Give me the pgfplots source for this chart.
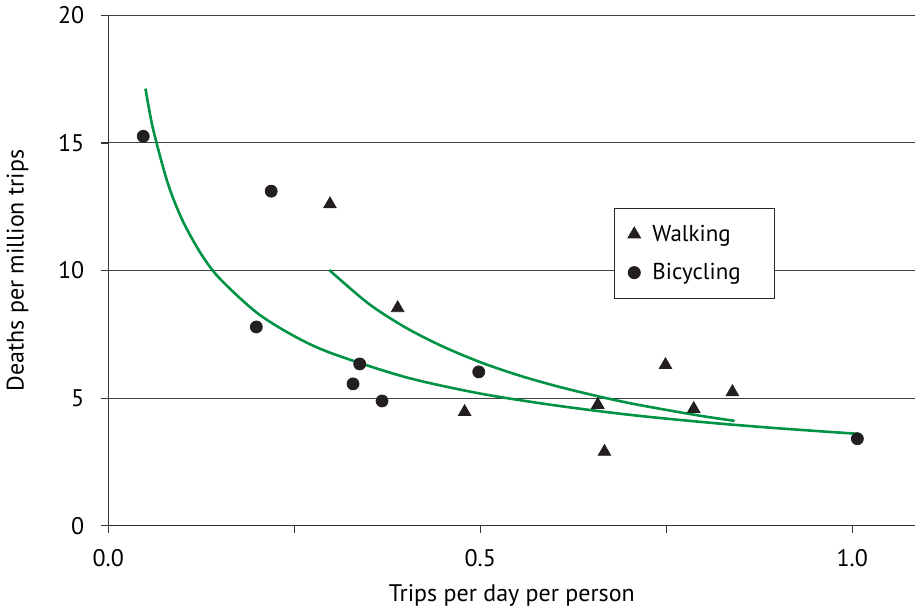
\documentclass[border=0pt]{standalone}
\usepackage{pgfplots}
\pgfplotsset{compat=1.18}
\usepackage{fontspec}
\setmainfont{PT Sans}
\definecolor{fitgreen}{RGB}{0,146,69}
\definecolor{markblack}{RGB}{35,31,32}

\begin{document}
\begin{tikzpicture}
\begin{axis}[
  scale only axis,
  width=404pt, height=255.5pt,
  xmin=0, xmax=1.085, ymin=0, ymax=20,
  axis x line=bottom, axis y line=left,
  axis line style={-, black!80, line width=0.6pt},
  xtick={0,0.25,0.5,0.75,1.0},
  xticklabels={0.0,,0.5,,1.0},
  ytick={0,5,10,15,20},
  tick align=outside,
  major tick length=3.5pt,
  tick style={black!80, line width=0.6pt},
  ymajorgrids,
  grid style={black!75, line width=0.5pt},
  font=\fontsize{12}{14}\selectfont,
  /pgf/number format/assume math mode=true,
  xticklabel style={yshift=-5pt},
  yticklabel style={xshift=-5pt},
  xlabel={Trips per day per person},
  ylabel={Deaths per million trips},
  xlabel style={yshift=-2pt},
  ylabel style={yshift=8pt},
  legend cell align=left,
  legend style={at={(0.626,0.622)}, anchor=north west, draw=black!85,
    line width=0.5pt, fill=white, inner xsep=7pt, inner ysep=6pt,
    row sep=5.5pt, column sep=4pt, font=\fontsize{11.5}{13}\selectfont},
]
% fitted curves
\addplot[fitgreen, line width=1.3pt, smooth, forget plot] coordinates {
  (0.050,17.13) (0.060,15.57) (0.080,13.42) (0.100,11.95) (0.125,10.64)
  (0.150,9.68) (0.200,8.34) (0.250,7.43) (0.300,6.76) (0.400,5.82)
  (0.500,5.18) (0.600,4.72) (0.700,4.35) (0.800,4.06) (0.900,3.82)
  (1.009,3.60)
};
\addplot[fitgreen, line width=1.3pt, smooth, forget plot] coordinates {
  (0.297,10.02) (0.350,8.70) (0.400,7.76) (0.450,7.02) (0.500,6.41)
  (0.550,5.91) (0.600,5.49) (0.650,5.13) (0.700,4.81) (0.750,4.54)
  (0.800,4.29) (0.842,4.11)
};
% walking
\addplot[only marks, mark=triangle*, mark size=3.6pt, markblack] coordinates {
  (0.298,12.6) (0.389,8.53) (0.479,4.46) (0.658,4.74) (0.667,2.90)
  (0.749,6.30) (0.787,4.58) (0.839,5.24)
};
\addlegendentry{Walking}
% bicycling
\addplot[only marks, mark=*, mark size=3pt, markblack] coordinates {
  (0.047,15.26) (0.219,13.11) (0.199,7.79) (0.338,6.34) (0.329,5.56)
  (0.368,4.89) (0.498,6.03) (1.007,3.41)
};
\addlegendentry{\makebox[52pt][l]{Bicycling}}
\end{axis}
\end{tikzpicture}
\end{document}
